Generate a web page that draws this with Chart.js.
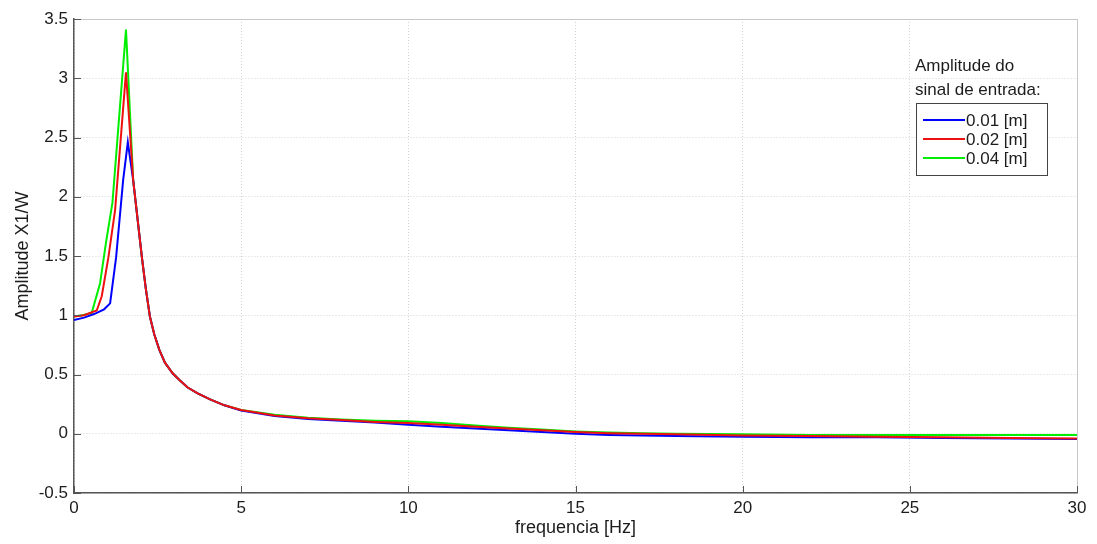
<!DOCTYPE html>
<html>
<head>
<meta charset="utf-8">
<script src="https://cdn.jsdelivr.net/npm/chart.js@4.4.1/dist/chart.umd.min.js"></script>
<style>
  html, body { margin: 0; padding: 0; background: #fff; }
  canvas { display: block; }
</style>
</head>
<body>
<canvas id="frfChart" width="1097" height="544"></canvas>
<script>
// frequency [Hz] / amplitude X1/W for each input amplitude
const freqBlue = [0, 0.3, 0.6, 0.9, 1.08, 1.26, 1.47, 1.61, 1.77, 2.03, 2.15, 2.27, 2.4, 2.55, 2.72, 2.95, 3.17, 3.4, 3.7, 4.07, 4.5, 5, 6, 7, 8, 9, 10, 11, 12, 13, 14, 15, 16, 17, 18, 20, 22, 24, 26, 28, 30];
const ampBlue  = [0.96, 0.98, 1.01, 1.05, 1.1, 1.49, 2.14, 2.46, 2.14, 1.49, 1.22, 0.99, 0.84, 0.71, 0.6, 0.51, 0.45, 0.39, 0.34, 0.29, 0.24, 0.195, 0.15, 0.125, 0.11, 0.095, 0.075, 0.06, 0.045, 0.03, 0.015, 0.0, -0.01, -0.015, -0.02, -0.025, -0.03, -0.03, -0.035, -0.04, -0.045];

const freqRed = [0, 0.3, 0.68, 0.83, 1.03, 1.23, 1.555, 1.77, 2.03, 2.15, 2.27, 2.4, 2.55, 2.72, 2.95, 3.17, 3.4, 3.7, 4.07, 4.5, 5, 6, 7, 8, 9, 10, 11, 12, 13, 14, 15, 16, 17, 18, 20, 22, 24, 26, 28, 30];
const ampRed  = [0.99, 1.0, 1.04, 1.16, 1.49, 1.89, 3.05, 2.14, 1.49, 1.22, 0.99, 0.84, 0.71, 0.6, 0.51, 0.45, 0.39, 0.34, 0.29, 0.24, 0.2, 0.155, 0.13, 0.115, 0.1, 0.09, 0.075, 0.06, 0.045, 0.03, 0.015, 0.005, 0.0, -0.005, -0.015, -0.02, -0.025, -0.03, -0.035, -0.04];

const freqGreen = [0, 0.25, 0.53, 0.78, 0.95, 1.15, 1.555, 1.77, 2.03, 2.15, 2.27, 2.4, 2.55, 2.72, 2.95, 3.17, 3.4, 3.7, 4.07, 4.5, 5, 6, 7, 8, 9, 10, 11, 12, 13, 14, 15, 16, 17, 18, 20, 22, 25, 28, 30];
const ampGreen  = [0.99, 1.0, 1.02, 1.27, 1.6, 1.95, 3.41, 2.14, 1.49, 1.22, 0.99, 0.84, 0.71, 0.6, 0.51, 0.45, 0.39, 0.34, 0.29, 0.24, 0.2, 0.16, 0.135, 0.12, 0.11, 0.105, 0.09, 0.07, 0.05, 0.035, 0.02, 0.01, 0.005, 0.0, -0.005, -0.01, -0.01, -0.01, -0.01];

const seriesLabels = ['0.01 [m]', '0.02 [m]', '0.04 [m]'];
const legendTitle = ['Amplitude do', 'sinal de entrada:'];
const xTicks = [0, 5, 10, 15, 20, 25, 30];
const yTicks = [-0.5, 0, 0.5, 1, 1.5, 2, 2.5, 3, 3.5];

const FONT = '"Liberation Sans", Arial, sans-serif';
const TEXT = '#1c1c1c';

function toPoints(xs, ys) {
  return xs.map((x, i) => ({ x: x, y: ys[i] }));
}

// light frame on top/right and MATLAB-style inward ticks
const frameAndTicks = {
  id: 'frameAndTicks',
  afterDatasetsDraw(chart) {
    const { ctx, chartArea: a, scales } = chart;
    ctx.save();
    ctx.strokeStyle = '#c8c8c8';
    ctx.lineWidth = 1;
    ctx.beginPath();
    ctx.moveTo(a.left, a.top + 0.5);
    ctx.lineTo(a.right + 0.5, a.top + 0.5);
    ctx.lineTo(a.right + 0.5, a.bottom);
    ctx.stroke();

    ctx.strokeStyle = '#555';
    ctx.beginPath();
    xTicks.forEach(v => {
      const px = Math.round(scales.x.getPixelForValue(v)) + 0.5;
      ctx.moveTo(px, a.bottom);
      ctx.lineTo(px, a.bottom - 7);
    });
    yTicks.forEach(v => {
      const py = Math.round(scales.y.getPixelForValue(v)) + 0.5;
      ctx.moveTo(a.left, py);
      ctx.lineTo(a.left + 7, py);
    });
    ctx.stroke();
    ctx.restore();
  }
};

// legend box with its two-line title, top right of the plot
const boxLegend = {
  id: 'boxLegend',
  afterDraw(chart) {
    const ctx = chart.ctx;
    const boxX = 916, boxY = 103, boxW = 131, rowH = 19;
    const sets = chart.data.datasets;
    ctx.save();
    ctx.font = '17px ' + FONT;
    ctx.fillStyle = TEXT;
    ctx.textBaseline = 'middle';
    ctx.textAlign = 'left';
    legendTitle.forEach((t, i) => ctx.fillText(t, 915, 66 + i * 24));

    const boxH = rowH * sets.length + 15;
    ctx.fillStyle = '#fff';
    ctx.fillRect(boxX, boxY, boxW, boxH);
    ctx.strokeStyle = '#444';
    ctx.lineWidth = 1;
    ctx.strokeRect(boxX + 0.5, boxY + 0.5, boxW, boxH);

    sets.forEach((ds, i) => {
      const y = boxY + 17 + i * rowH;
      ctx.strokeStyle = ds.borderColor;
      ctx.lineWidth = 2;
      ctx.beginPath();
      ctx.moveTo(boxX + 7, y);
      ctx.lineTo(boxX + 49, y);
      ctx.stroke();
      ctx.fillStyle = TEXT;
      ctx.fillText(ds.label, boxX + 50, y + 1);
    });
    ctx.restore();
  }
};

const ctx = document.getElementById('frfChart').getContext('2d');
const frfChart = new Chart(ctx, {
  type: 'line',
  data: {
    datasets: [
      { label: seriesLabels[0], data: toPoints(freqBlue, ampBlue), borderColor: '#0000ff', order: 1 },
      { label: seriesLabels[1], data: toPoints(freqRed, ampRed), borderColor: '#ee1111', order: 0 },
      { label: seriesLabels[2], data: toPoints(freqGreen, ampGreen), borderColor: '#00ee00', order: 2 }
    ]
  },
  options: {
    responsive: false,
    animation: false,
    devicePixelRatio: 1,
    layout: { padding: { left: 0, right: 20, top: 19, bottom: 0 } },
    elements: {
      line: { borderWidth: 2, tension: 0, fill: false },
      point: { radius: 0, hoverRadius: 0 }
    },
    scales: {
      x: {
        type: 'linear',
        min: 0,
        max: 30,
        afterBuildTicks: s => { s.ticks = xTicks.map(v => ({ value: v })); },
        afterFit: s => { s.height = 51; },
        grid: { color: '#d4d4d4', drawTicks: false },
        border: { color: '#555', width: 1.5, dash: [1, 2] },
        ticks: {
          color: TEXT,
          font: { family: FONT, size: 17 },
          padding: 5,
          maxRotation: 0,
          callback: v => String(v)
        },
        title: {
          display: true,
          text: 'frequencia [Hz]',
          color: TEXT,
          font: { family: FONT, size: 18 },
          padding: { top: 0, bottom: 5 }
        }
      },
      y: {
        type: 'linear',
        min: -0.5,
        max: 3.5,
        afterBuildTicks: s => { s.ticks = yTicks.map(v => ({ value: v })); },
        afterFit: s => { s.width = 74; },
        grid: { color: '#d4d4d4', drawTicks: false },
        border: { color: '#555', width: 1.5, dash: [1, 2] },
        ticks: {
          color: TEXT,
          font: { family: FONT, size: 17 },
          padding: 6,
          callback: v => String(Number(v.toFixed(2)))
        },
        title: {
          display: true,
          text: 'Amplitude X1/W',
          color: TEXT,
          font: { family: FONT, size: 18 },
          padding: { top: 12, bottom: 0 }
        }
      }
    },
    plugins: {
      legend: { display: false },
      tooltip: { enabled: false }
    }
  },
  plugins: [frameAndTicks, boxLegend]
});
</script>
</body>
</html>
